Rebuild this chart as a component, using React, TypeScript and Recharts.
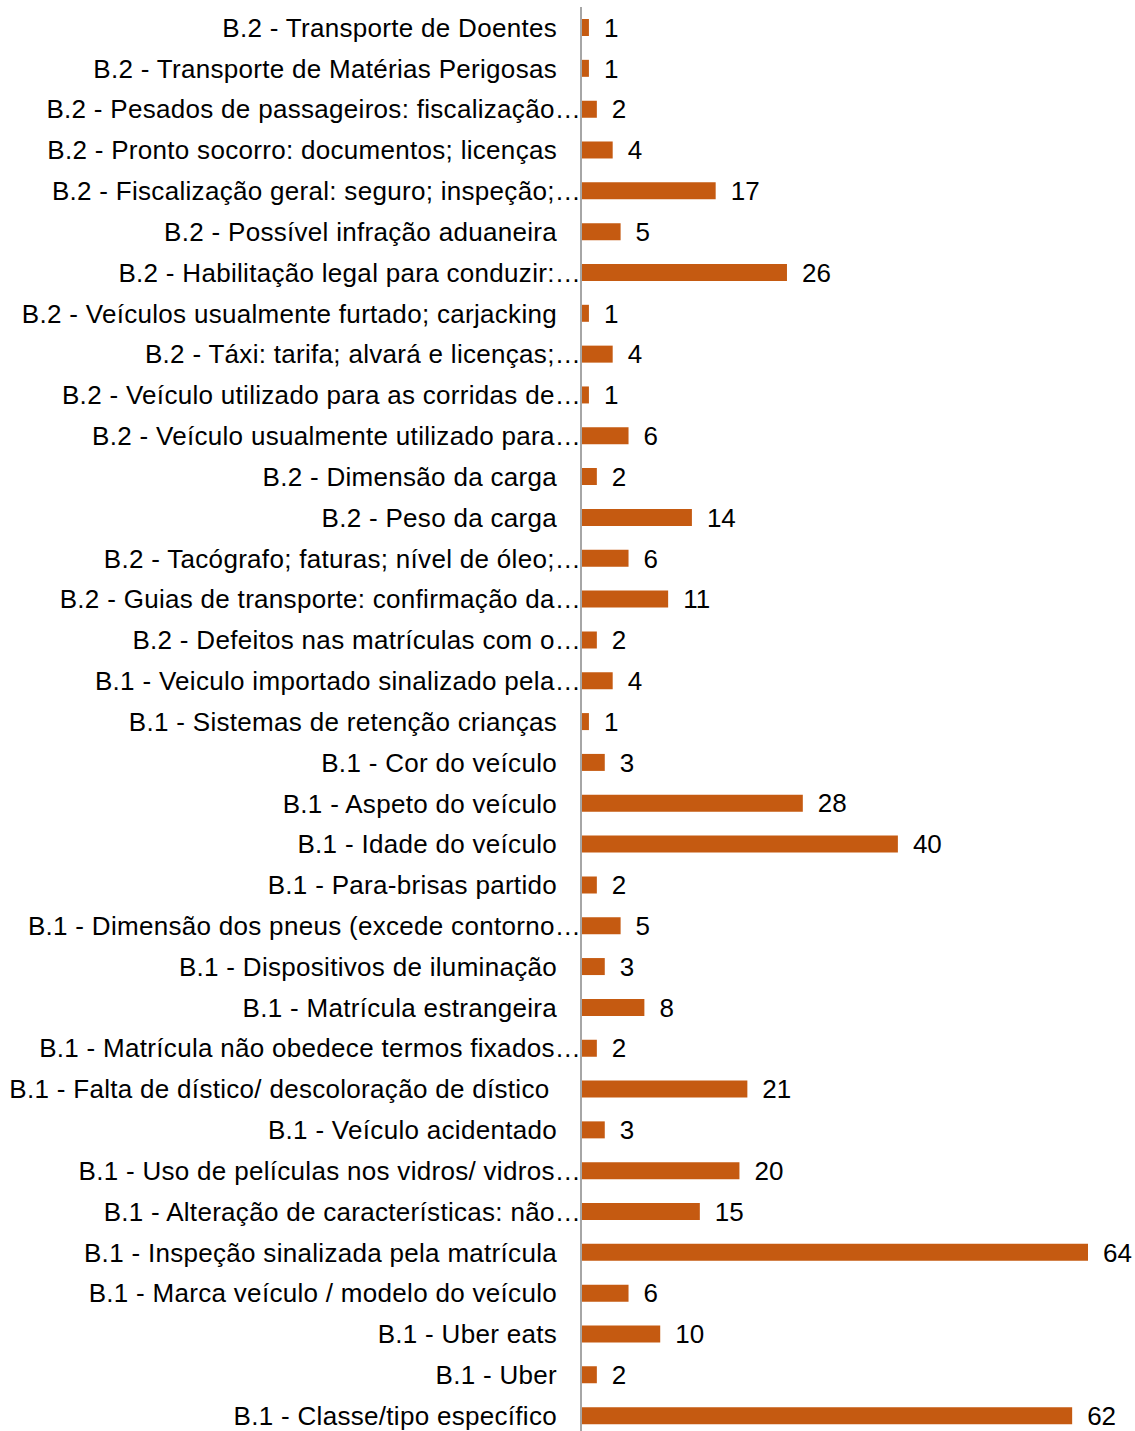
import { BarChart, Bar, XAxis, YAxis, LabelList } from "recharts"

const categories = [
  "B.2 - Transporte de Doentes",
  "B.2 - Transporte de Matérias Perigosas",
  "B.2 - Pesados de passageiros: fiscalização…",
  "B.2 - Pronto socorro: documentos; licenças",
  "B.2 - Fiscalização geral: seguro; inspeção;…",
  "B.2 - Possível infração aduaneira",
  "B.2 - Habilitação legal para conduzir:…",
  "B.2 - Veículos usualmente furtado; carjacking",
  "B.2 - Táxi: tarifa; alvará e licenças;…",
  "B.2 - Veículo utilizado para as corridas de…",
  "B.2 - Veículo usualmente utilizado para…",
  "B.2 - Dimensão da carga",
  "B.2 - Peso da carga",
  "B.2 - Tacógrafo; faturas; nível de óleo;…",
  "B.2 - Guias de transporte: confirmação da…",
  "B.2 - Defeitos nas matrículas com o…",
  "B.1 - Veiculo importado sinalizado pela…",
  "B.1 - Sistemas de retenção crianças",
  "B.1 - Cor do veículo",
  "B.1 - Aspeto do veículo",
  "B.1 - Idade do veículo",
  "B.1 - Para-brisas partido",
  "B.1 - Dimensão dos pneus (excede contorno…",
  "B.1 - Dispositivos de iluminação",
  "B.1 - Matrícula estrangeira",
  "B.1 - Matrícula não obedece termos fixados…",
  "B.1 - Falta de dístico/ descoloração de dístico ",
  "B.1 - Veículo acidentado",
  "B.1 - Uso de películas nos vidros/ vidros…",
  "B.1 - Alteração de características: não…",
  "B.1 - Inspeção sinalizada pela matrícula",
  "B.1 - Marca veículo / modelo do veículo",
  "B.1 - Uber eats",
  "B.1 - Uber",
  "B.1 - Classe/tipo específico",
]

const counts = [
  1, 1, 2, 4, 17, 5, 26, 1, 4, 1, 6, 2, 14, 6, 11, 2, 4, 1, 3, 28, 40, 2, 5, 3, 8, 2, 21, 3, 20, 15, 64, 6, 10, 2, 62,
]

const data = categories.map((name, i) => ({ name, value: counts[i] }))

const FONT = "'Liberation Sans', Arial, sans-serif"

function CategoryTick({ x, y, payload }: any) {
  const label: string = payload.value
  // Excel-style truncated labels run right up to the axis
  const shift = label.endsWith("…") ? 24 : 0
  return (
    <text
      x={x + shift}
      y={y}
      dy="0.36em"
      textAnchor="end"
      fill="#000"
      fontSize={26}
      letterSpacing={0.3}
      fontFamily={FONT}
      style={{ whiteSpace: "pre" }}
    >
      {label}
    </text>
  )
}

export default function App() {
  return (
    <div style={{ position: "absolute", left: 0, top: 0, width: 1135, height: 1431, overflow: "hidden" }}>
      <BarChart
        width={1135}
        height={1436}
        data={data}
        layout="vertical"
        margin={{ top: 7, right: 47, bottom: 0, left: 0 }}
      >
        <XAxis type="number" hide domain={[0, 64]} />
        <YAxis
          type="category"
          dataKey="name"
          width={581}
          interval={0}
          tickLine={false}
          tickSize={0}
          tickMargin={24}
          axisLine={{ stroke: "#a6a6a6", strokeWidth: 2 }}
          tick={<CategoryTick />}
        />
        <Bar dataKey="value" fill="#c55a11" barSize={17} isAnimationActive={false}>
          <LabelList
            dataKey="value"
            position="right"
            offset={15}
            fill="#000"
            fontSize={26}
            fontFamily={FONT}
          />
        </Bar>
      </BarChart>
    </div>
  )
}
